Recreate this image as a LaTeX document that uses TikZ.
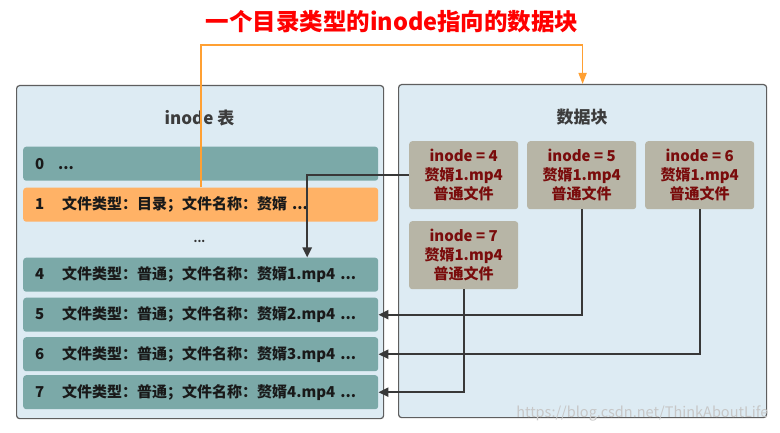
\documentclass[tikz,border=0pt]{standalone}
\usepackage{fontspec}
\setmainfont{Noto Sans CJK SC}
\usetikzlibrary{arrows.meta}
\definecolor{boxfill}{HTML}{DDEBF3}
\definecolor{boxline}{HTML}{5E5E5E}
\definecolor{rowfill}{HTML}{7BA9A8}
\definecolor{rowhot}{HTML}{FFB266}
\definecolor{blkfill}{HTML}{B7B5A6}
\definecolor{blktext}{HTML}{7A0C0C}
\definecolor{conncol}{HTML}{383838}
\definecolor{orangeline}{HTML}{FFA033}
\definecolor{headtext}{HTML}{3C3C3C}
\tikzset{
  panel/.style={draw=boxline, line width=1.2pt, fill=boxfill, rounded corners=3pt, anchor=north west, inner sep=0pt},
  rowbox/.style={fill=rowfill, rounded corners=3pt, minimum width=355pt, minimum height=34pt, anchor=north west,
     text width=331pt, align=left, inner xsep=12pt, font=\bfseries\fontsize{15}{16}\selectfont, text=black!90},
  blk/.style={fill=blkfill, rounded corners=3pt, minimum width=109pt, minimum height=68pt, anchor=north west,
     align=center, font=\bfseries\fontsize{15}{19}\selectfont, text=blktext, inner sep=0pt},
  head/.style={font=\bfseries\fontsize{17}{20}\selectfont, text=headtext},
  conn/.style={draw=conncol, line width=2.2pt, -{Triangle[length=10pt,width=9pt]}},
  hotconn/.style={draw=orangeline, line width=1.6pt, -{Triangle[length=11pt,width=8pt]}},
}
\begin{document}
\begin{tikzpicture}[x=1pt,y=-1pt]
\useasboundingbox[fill=white] (0,0) rectangle (780,433);
% title
\node[font=\bfseries\fontsize{23.5}{26}\selectfont, text=red] (title) at (392,22) {一个目录类型的inode指向的数据块};
% panels
\node[panel, minimum width=367pt, minimum height=333pt] (ibox) at (16,85) {};
\node[panel, minimum width=368pt, minimum height=333pt] (dbox) at (398,84) {};
\node[head] (ihead) at (199.5,118) {inode 表};
\node[head] (dhead) at (582,117) {数据块};
% inode rows
\node[rowbox] (r0) at (23,146.5) {\makebox[23pt][l]{0}...};
\node[rowbox, fill=rowhot] (r1) at (23,187.5) {\makebox[27pt][l]{1}文件类型：目录；文件名称：赘婿 ...};
\node[font=\bfseries\fontsize{11}{12}\selectfont, text=black!80] (dots) at (199.5,241) {...};
\node[rowbox] (r4) at (23,257.5) {\makebox[27pt][l]{4}文件类型：普通；文件名称：赘婿1.mp4 ...};
\node[rowbox] (r5) at (23,297.5) {\makebox[27pt][l]{5}文件类型：普通；文件名称：赘婿2.mp4 ...};
\node[rowbox] (r6) at (23,337) {\makebox[27pt][l]{6}文件类型：普通；文件名称：赘婿3.mp4 ...};
\node[rowbox] (r7) at (23,375) {\makebox[27pt][l]{7}文件类型：普通；文件名称：赘婿4.mp4 ...};
% data blocks
\node[blk] (b4) at (409,141) {inode = 4\\赘婿1.mp4\\普通文件};
\node[blk] (b5) at (527,141) {inode = 5\\赘婿1.mp4\\普通文件};
\node[blk] (b6) at (645,141) {inode = 6\\赘婿1.mp4\\普通文件};
\node[blk] (b7) at (409,221) {inode = 7\\赘婿1.mp4\\普通文件};
% connectors
\draw[conn] (b4.west) -| ([xshift=106.5pt]r4.north);
\draw[conn] (b5.south) |- (r5.east);
\draw[conn] (b6.south) |- (r6.east);
\draw[conn] (b7.south) |- (r7.east);
\coordinate (topc) at (390,45);
\draw[hotconn] (r1.north) |- (topc) -| (dbox.north);
% watermark
\node[font=\fontsize{14.5}{15}\selectfont, text=black!22, anchor=east] (wm) at (772,413) {https://blog.csdn.net/ThinkAboutLife};
\end{tikzpicture}
\end{document}
